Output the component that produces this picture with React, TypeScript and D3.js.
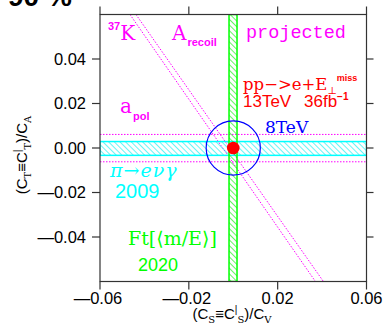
import React from 'react'
import * as d3 from 'd3'

// limits (units of C_V / C_A)
const xTicks = [-0.06, -0.02, 0.02, 0.06]
const yTicks = [-0.04, -0.02, 0.0, 0.02, 0.04]
const ftBand = [-0.0019, 0.0017]      // Ft[<m/E>] 2020
const piBand = [-0.0033, 0.0029]      // pi -> e nu gamma 2009
const apolLines = [-0.0062, 0.0061]   // a_pol
const k37Lines = [
  [[-0.0465, 0.06], [0.037, -0.06]],
  [[-0.0438, 0.06], [0.0406, -0.06]],
]
const lhc8Radius = 0.0122
const projected = [0, 0]

const W = 383
const H = 330
const serif = '"DejaVu Serif", "Liberation Serif", serif'
const sans = '"Liberation Sans", Arial, sans-serif'
const mono = '"Liberation Mono", "Courier New", monospace'

export default function App() {
  const x = d3.scaleLinear().domain([-0.06, 0.06]).range([100, 366.5])
  const y = d3.scaleLinear().domain([-0.06, 0.06]).range([281.5, 14.5])
  const [x0, x1] = x.range()
  const [y0, y1] = y.range()
  const line = d3.line<number[]>().x(d => x(d[0])).y(d => y(d[1]))
  const fmt = (v: number) => (v < 0 ? '\u2014' : '') + Math.abs(v).toFixed(2)

  return (
    <svg width={W} height={H} style={{ position: 'absolute', left: 0, top: 0, background: '#fff' }}>
      <defs>
        <clipPath id="frame">
          <rect x={x0} y={y1} width={x1 - x0} height={y0 - y1} />
        </clipPath>
        <pattern id="hatchG" width="4" height="4" patternUnits="userSpaceOnUse" patternTransform="rotate(-45)">
          <line x1="0" y1="0" x2="0" y2="4" stroke="#00ee00" strokeWidth="1.2" />
        </pattern>
        <pattern id="hatchC" width="4" height="4" patternUnits="userSpaceOnUse" patternTransform="rotate(-45)">
          <line x1="0" y1="0" x2="0" y2="4" stroke="#00eeee" strokeWidth="1.2" />
        </pattern>
      </defs>

      {/* big title, cut off by the top edge */}
      <text x={8} y={6} fontFamily={sans} fontWeight="bold" fontSize={28}>90 %</text>

      <g clipPath="url(#frame)">
        {/* a_pol */}
        {apolLines.map((v, i) => (
          <line key={'ap' + i} x1={x0} x2={x1} y1={y(v)} y2={y(v)}
            stroke="#ff00ff" strokeWidth={1} strokeDasharray="1.5 1.5" />
        ))}
        {/* 37K */}
        {k37Lines.map((l, i) => (
          <path key={'k' + i} d={line(l) || ''} fill="none"
            stroke="#ff00ff" strokeWidth={1} strokeDasharray="1.5 1.5" />
        ))}
        {/* pi -> e nu gamma band */}
        <rect x={x0} width={x1 - x0} y={y(piBand[1])} height={y(piBand[0]) - y(piBand[1])}
          fill="url(#hatchC)" stroke="#00ffff" strokeWidth={1.5} />
        {/* Ft band */}
        <rect x={x(ftBand[0])} width={x(ftBand[1]) - x(ftBand[0])} y={y1} height={y0 - y1}
          fill="url(#hatchG)" stroke="#00ff00" strokeWidth={1.5} />
        {/* LHC 8 TeV */}
        <circle cx={x(0)} cy={y(0)} r={x(lhc8Radius) - x(0)} fill="none" stroke="#0000ff" strokeWidth={1.2} />
        {/* projected */}
        <circle cx={x(projected[0])} cy={y(projected[1])} r={6.3} fill="#ff0000" />
      </g>

      {/* frame and ticks */}
      <rect x={x0} y={y1} width={x1 - x0} height={y0 - y1} fill="none" stroke="#333" strokeWidth={1.2} />
      {xTicks.map(t => (
        <g key={'xt' + t}>
          <line x1={x(t)} x2={x(t)} y1={y1} y2={y1 - 8} stroke="#333" strokeWidth={1.2} />
          <line x1={x(t)} x2={x(t)} y1={y0} y2={y0 + 8} stroke="#333" strokeWidth={1.2} />
          <text x={x(t) - (t < 0 ? 2 : 0)} y={304} textAnchor="middle" fontFamily={sans} fontSize={16.5}>{fmt(t)}</text>
        </g>
      ))}
      {yTicks.map(t => (
        <g key={'yt' + t}>
          <line x1={x0} x2={x0 - 8} y1={y(t)} y2={y(t)} stroke="#333" strokeWidth={1.2} />
          <line x1={x1} x2={x1 + 7} y1={y(t)} y2={y(t)} stroke="#333" strokeWidth={1.2} />
          <text x={86} y={y(t) + 5.5} textAnchor="end" fontFamily={sans} fontSize={16.5}>{fmt(t)}</text>
        </g>
      ))}

      {/* axis titles */}
      <text x={232} y={319} textAnchor="middle" fontFamily={sans} fontSize={15}>
        (C<tspan dy={4} fontSize={10} fontFamily={serif}>S</tspan>
        <tspan dy={-4}>{'\u2261'}C</tspan>
        <tspan dy={-6} fontSize={10}>|</tspan>
        <tspan dy={10} fontSize={10} fontFamily={serif}>S</tspan>
        <tspan dy={-4}>)/C</tspan>
        <tspan dy={4} fontSize={10} fontFamily={serif}>V</tspan>
      </text>
      <text transform="translate(27,155) rotate(-90)" textAnchor="middle" fontFamily={sans} fontSize={15}>
        (C<tspan dy={4} fontSize={10} fontFamily={serif}>T</tspan>
        <tspan dy={-4}>{'\u2261'}C</tspan>
        <tspan dy={-6} fontSize={10}>|</tspan>
        <tspan dy={10} fontSize={10} fontFamily={serif}>T</tspan>
        <tspan dy={-4}>)/C</tspan>
        <tspan dy={4} fontSize={10} fontFamily={serif}>A</tspan>
      </text>

      {/* labels */}
      <text x={108} y={40} fill="#ff00ff" fontFamily={serif} fontSize={20}>
        <tspan dy={-10} fontSize={11} fontWeight="bold" fontFamily={sans}>37</tspan>
        <tspan dy={10}>K</tspan>
      </text>
      <text x={172} y={40} fill="#ff00ff" fontFamily={serif} fontSize={20}>
        A<tspan dx={1} dy={6} fontSize={11} fontWeight="bold" fontFamily={sans}>recoil</tspan>
      </text>
      <text x={246} y={38} fill="#ff00ff" fontFamily={mono} fontSize={18.5}>projected</text>

      <text x={243} y={90} fill="#ff0000" fontFamily={serif} fontSize={16.5}>
        pp{'\u2212'}&gt;e+E<tspan dy={4} fontSize={10}>{'\u22a5'}</tspan>
        <tspan dy={-13} fontSize={9} fontWeight="bold" fontFamily={sans}>miss</tspan>
      </text>
      <text x={243} y={107} fill="#ff0000" fontFamily={sans} fontSize={17}>13TeV</text>
      <text x={304} y={107} fill="#ff0000" fontFamily={sans} fontSize={17}>
        36fb<tspan dy={-7} fontSize={10} fontWeight="bold">{'\u2212'}1</tspan>
      </text>
      <text x={265} y={133} fill="#0000ff" fontFamily={serif} fontSize={17}>8TeV</text>

      <text x={120} y={113} fill="#ff00ff" fontFamily={serif} fontSize={20}>
        a<tspan dx={1} dy={7} fontSize={11} fontWeight="bold" fontFamily={sans}>pol</tspan>
      </text>

      <text x={110} y={177} fill="#00ffff" fontFamily={serif} fontStyle="italic" fontSize={19} letterSpacing={1}>
        {'\u03c0\u2192e\u03bd\u03b3'}
      </text>
      <text x={115} y={198} fill="#00ffff" fontFamily={sans} fontSize={20}>2009</text>

      <text x={128} y={245} fill="#00ff00" fontFamily={serif} fontSize={19}>
        Ft[{'\u27e8'}m/E{'\u27e9'}]
      </text>
      <text x={138} y={271} fill="#00ff00" fontFamily={sans} fontSize={18}>2020</text>
    </svg>
  )
}
